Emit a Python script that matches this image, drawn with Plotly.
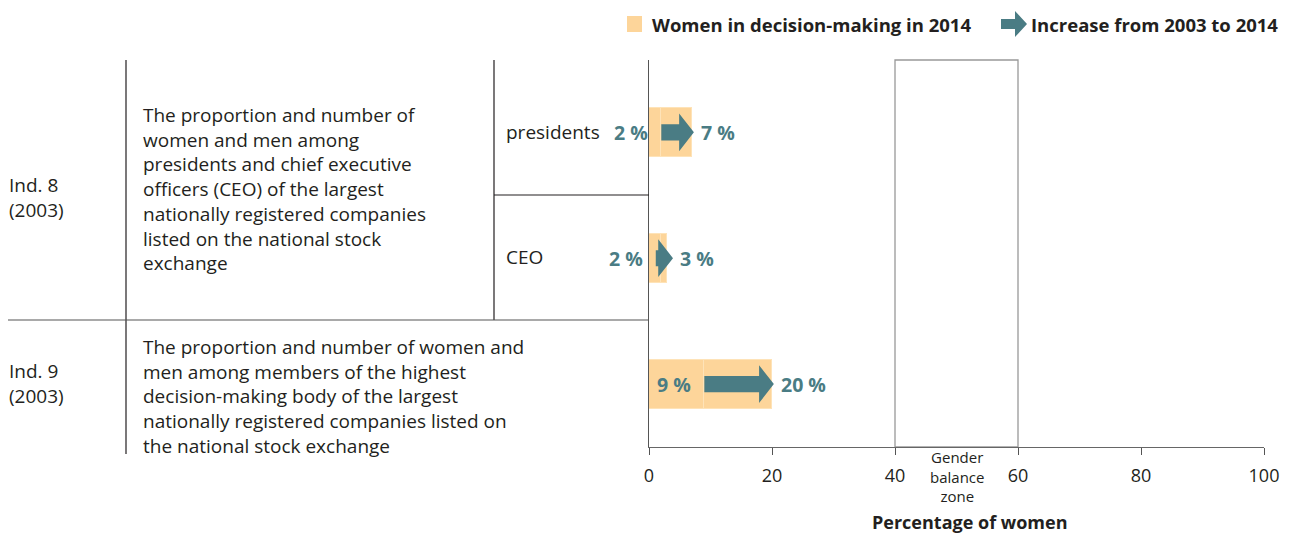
import plotly.graph_objects as go

# ---------------- data ----------------
row_labels = ["presidents", "CEO", "board members"]
women_2003 = [2, 2, 9]
women_2014 = [7, 3, 20]
start_labels = ["2 %", "2 %", "9 %"]
end_labels = ["7 %", "3 %", "20 %"]
x_ticks = [0, 20, 40, 60, 80, 100]
balance_zone = [40, 60]

# ---------------- style ----------------
FONT = "Open Sans"
DARK = "#231f20"
BAR = "#fdd59a"
BAR_EDGE = "#fee3b8"
TEAL = "#4a7c84"

PAGE_W, PAGE_H = 1293, 534
OFF = 8                      # default body margin of the html page
W, H = PAGE_W - OFF, PAGE_H - OFF
L, R, T, B = 649, 1264, 60, 447   # plot area in page pixels


def xp(px):
    return (px - L) / (R - L)


def yp(py):
    return (B - py) / (B - T)


ypos = list(range(len(row_labels)))

fig = go.Figure()

# bars: 2003 part + increase part
fig.add_trace(go.Bar(
    x=women_2003, y=ypos, orientation="h", width=0.39,
    marker=dict(color=BAR, line=dict(color=BAR_EDGE, width=1)),
    hoverinfo="skip", showlegend=False))
fig.add_trace(go.Bar(
    x=[e - s for s, e in zip(women_2003, women_2014)], base=women_2003,
    y=ypos, orientation="h", width=0.39,
    marker=dict(color=BAR, line=dict(color=BAR_EDGE, width=1)),
    hoverinfo="skip", showlegend=False))

# arrows
min_len, head_len, shaft_h, head_h = 2.8, 2.4, 0.064, 0.15
ax, ay, starts, tips = [], [], [], []
for yi, s, e in zip(ypos, women_2003, women_2014):
    if e - s < min_len:
        c = (s + e) / 2
        s0, t = c - min_len / 2, c + min_len / 2
    else:
        s0, t = s, e + 0.3
    hs = t - head_len
    ax += [s0, hs, hs, t, hs, hs, s0, s0, None]
    ay += [yi - shaft_h, yi - shaft_h, yi - head_h, yi, yi + head_h,
           yi + shaft_h, yi + shaft_h, yi - shaft_h, None]
    starts.append(s0)
    tips.append(t)
fig.add_trace(go.Scatter(
    x=ax, y=ay, mode="lines", fill="toself", fillcolor=TEAL,
    line=dict(color=TEAL, width=0), hoverinfo="skip", showlegend=False))

annotations = []
for yi, s0, t, sl, el in zip(ypos, starts, tips, start_labels, end_labels):
    annotations.append(dict(x=s0, y=yi, xref="x", yref="y", text=f"<b>{sl}</b>",
                            xanchor="right", yanchor="middle", xshift=-11, showarrow=False,
                            font=dict(family=FONT, size=19.5, color=TEAL)))
    annotations.append(dict(x=t, y=yi, xref="x", yref="y", text=f"<b>{el}</b>",
                            xanchor="left", yanchor="middle", xshift=5, showarrow=False,
                            font=dict(family=FONT, size=19.5, color=TEAL)))

# gender balance zone
shapes = [dict(type="rect", xref="x", yref="paper", x0=balance_zone[0], x1=balance_zone[1],
               y0=0, y1=1, line=dict(color="#999999", width=1.3), fillcolor="rgba(0,0,0,0)",
               layer="below")]
annotations.append(dict(x=sum(balance_zone) / 2, y=yp(477), xref="x", yref="paper",
                        text="Gender<br>balance<br>zone", showarrow=False,
                        xanchor="center", yanchor="middle",
                        font=dict(family=FONT, size=15, color=DARK)))


# table lines (left part)
def line(x0, y0, x1, y1, color=DARK, w=1.2):
    shapes.append(dict(type="line", xref="paper", yref="paper",
                       x0=xp(x0), y0=yp(y0), x1=xp(x1), y1=yp(y1),
                       line=dict(color=color, width=w)))


line(126, 60, 126, 454)
line(494, 60, 494, 320)
line(494, 195, 649, 195)
line(6, 320, 649, 320, color="#555555")


def txt(px, py, text, size=18, anchor="left", bold=False, color=DARK):
    annotations.append(dict(x=xp(px), y=yp(py), xref="paper", yref="paper",
                            text=f"<b>{text}</b>" if bold else text, showarrow=False,
                            xanchor=anchor, yanchor="middle", align=anchor,
                            font=dict(family=FONT, size=size, color=color)))


txt(7, 197, "Ind. 8<br>(2003)", size=19)
txt(7, 383, "Ind. 9<br>(2003)", size=19)
txt(141, 189, "The proportion and number of<br>women and men among<br>presidents and chief executive"
              "<br>officers (CEO) of the largest<br>nationally registered companies"
              "<br>listed on the national stock<br>exchange", size=19)
txt(141, 396, "The proportion and number of women and<br>men among members of the highest"
              "<br>decision-making body of the largest<br>nationally registered companies listed on"
              "<br>the national stock exchange", size=19)
txt(504, 132, "presidents", size=19)
txt(504, 257, "CEO", size=19)

# axis title
txt(969, 522, "Percentage of women", size=18, anchor="center", bold=True)

# custom legend
shapes.append(dict(type="rect", xref="paper", yref="paper", x0=xp(627), x1=xp(642),
                   y0=yp(32), y1=yp(16), line=dict(width=0), fillcolor=BAR))
txt(650, 24, "Women in decision-making in 2014", size=18.5, bold=True)
shapes.append(dict(type="path", xref="paper", yref="paper",
                   path=(f"M {xp(1001)} {yp(19)} L {xp(1015)} {yp(19)} L {xp(1015)} {yp(11)} "
                         f"L {xp(1027)} {yp(24)} L {xp(1015)} {yp(37)} L {xp(1015)} {yp(29)} "
                         f"L {xp(1001)} {yp(29)} Z"),
                   line=dict(width=0), fillcolor=TEAL))
txt(1029, 24, "Increase from 2003 to 2014", size=18.5, bold=True)

fig.update_layout(
    width=W, height=H,
    margin=dict(l=L - OFF, r=PAGE_W - R, t=T - OFF, b=PAGE_H - B, pad=0),
    paper_bgcolor="white", plot_bgcolor="white",
    barmode="stack", bargap=0,
    shapes=shapes, annotations=annotations,
    showlegend=False,
    font=dict(family=FONT, color=DARK),
    xaxis=dict(range=[0, 100], tickvals=x_ticks, showgrid=False, zeroline=False,
               showline=True, linecolor="#666666", linewidth=1.3,
               ticks="outside", ticklen=7, tickcolor="#555555", tickwidth=1,
               ticklabelstandoff=5,
               tickfont=dict(family=FONT, size=18, color=DARK), fixedrange=True),
    yaxis=dict(range=[2.5, -0.575], showticklabels=False, showgrid=False, zeroline=False,
               showline=True, linecolor="#555555", linewidth=1.3, ticks="", fixedrange=True),
)

fig.write_html("out.html")
